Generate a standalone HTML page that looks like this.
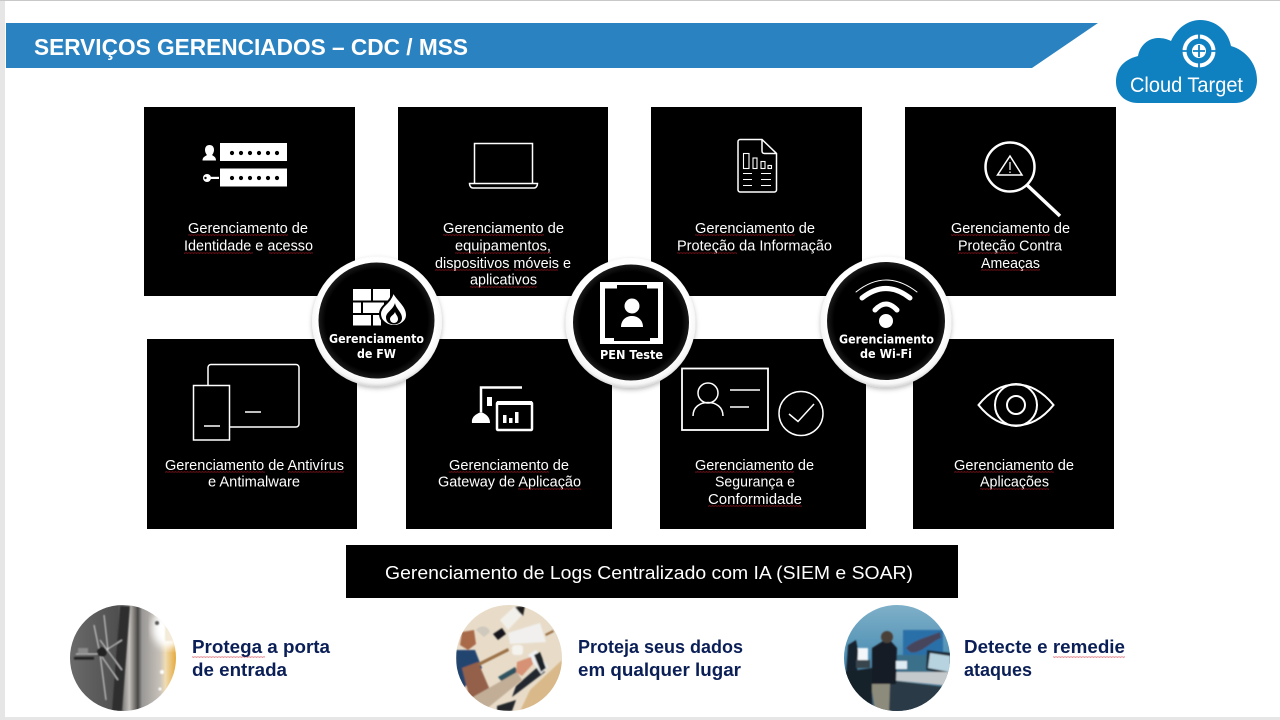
<!DOCTYPE html>
<html lang="pt">
<head>
<meta charset="utf-8">
<title>Serviços Gerenciados</title>
<style>
html,body{margin:0;padding:0;width:1280px;height:720px;overflow:hidden;background:#fff}
svg{display:block}
text{font-family:"Liberation Sans",sans-serif}
.t{fill:#fff;font-size:15px}
.c{fill:#fff;font-family:"DejaVu Sans",sans-serif;font-weight:700;font-size:12px}
.b{fill:#0b1f57;font-weight:700;font-size:18px}
.i{fill:none;stroke:#fff;stroke-width:1.500}
.n{fill:none;stroke:#fff;stroke-width:2}
</style>
</head>
<body>
<svg width="1280" height="720" viewBox="0 0 1280 720" xmlns="http://www.w3.org/2000/svg">
<defs>
<pattern id="w" width="3" height="2" patternUnits="userSpaceOnUse"><polyline points="0,1.500 .75,.5 1.500,1.500 2.250,.5 3,1.500" fill="none" stroke="#c9202a" stroke-width=".5"/></pattern>
<radialGradient id="ring" cx=".5" cy=".47" r=".53"><stop offset=".86" stop-color="#fff"/><stop offset=".95" stop-color="#f6f6f6"/><stop offset="1" stop-color="#d6d6d6"/></radialGradient>
<radialGradient id="disc" cx=".5" cy=".5" r=".5"><stop offset=".88" stop-color="#000"/><stop offset="1" stop-color="#1a1a1a"/></radialGradient>
<filter id="sh" x="-20%" y="-20%" width="140%" height="140%"><feDropShadow dx="0" dy="2" stdDeviation="2.500" flood-color="#000" flood-opacity=".25"/></filter>
<filter id="bl"><feGaussianBlur stdDeviation=".7"/></filter>
<filter id="bl2"><feGaussianBlur stdDeviation="4"/></filter>
<linearGradient id="vault" x1="0" x2="1" y1="0" y2="0"><stop offset="0" stop-color="#6a6a6a"/><stop offset=".45" stop-color="#4f4f4f"/><stop offset=".56" stop-color="#c4c0bc"/><stop offset=".64" stop-color="#4a4846"/><stop offset=".68" stop-color="#9a9896"/><stop offset=".85" stop-color="#c8c2ba"/><stop offset=".9" stop-color="#f0dcb4"/><stop offset="1" stop-color="#e5aa3c"/></linearGradient>
<linearGradient id="room" x1="0" x2="0" y1="0" y2="1"><stop offset="0" stop-color="#7fb0c8"/><stop offset=".5" stop-color="#4d8fb4"/><stop offset="1" stop-color="#2a4a60"/></linearGradient>
<clipPath id="p1"><circle cx="123" cy="658" r="53"/></clipPath>
<clipPath id="p2"><circle cx="509" cy="658" r="53"/></clipPath>
<clipPath id="p3"><circle cx="897" cy="658" r="53"/></clipPath>
</defs>

<!-- page frame -->
<rect width="1280" height="720" fill="#fff"/>
<rect x="0" y="0" width="5" height="720" fill="#e6e6e6"/>
<rect x="0" y="0" width="1280" height="1" fill="#c8c8c8"/>
<rect x="0" y="717" width="1280" height="3" fill="#e6e6e6"/>

<!-- header -->
<polygon points="6,23 1098,23 1032,68 6,68" fill="#2a83c0"/>
<text x="34" y="55" fill="#fff" font-size="23" font-weight="700" textLength="434" lengthAdjust="spacingAndGlyphs">SERVIÇOS GERENCIADOS – CDC / MSS</text>

<!-- logo -->
<path d="M1138 103C1125 103 1116 94 1116 82C1116 70 1122 60 1138 56C1140 44 1150 38 1158 38C1163 38 1167 39 1171 41C1177 28 1188 20 1200 20C1216 20 1228 31 1231 46C1245 50 1257 63 1257 80C1257 94 1247 103 1235 103Z" fill="#0f80c0"/>
<circle cx="1199" cy="51" r="14.500" fill="none" stroke="#fff" stroke-width="4"/>
<circle cx="1199" cy="51" r="7" fill="#fff"/>
<path d="M1199 33V40M1199 62V69M1181 51H1188M1210 51H1217M1199 45V57M1193 51H1205" stroke="#0f80c0" stroke-width="1.800"/>
<text x="1130" y="92" fill="#fff" font-size="21" textLength="113" lengthAdjust="spacingAndGlyphs">Cloud Target</text>

<!-- boxes -->
<g fill="#000">
<rect x="144" y="107" width="211" height="189"/>
<rect x="398" y="107" width="210" height="189"/>
<rect x="651" y="107" width="211" height="189"/>
<rect x="905" y="107" width="211" height="189"/>
<rect x="147" y="339" width="210" height="190"/>
<rect x="406" y="339" width="206" height="190"/>
<rect x="660" y="339" width="206" height="190"/>
<rect x="913" y="339" width="201" height="190"/>
<rect x="346" y="545" width="612" height="53"/>
</g>

<!-- icon: identity -->
<g fill="#fff">
<rect x="220" y="143" width="67" height="18"/>
<rect x="220" y="168.500" width="67" height="18"/>
<path d="M209.500 145C212.500 145 214 147 214 150C214 152 213 154 212 155C214 156.500 216 157 216 160.500H202.500C202.500 157 205 156.500 207 155C206 154 205 152 205 150C205 147 206.500 145 209.500 145Z"/>
<circle cx="207" cy="178" r="4"/>
<rect x="209" y="176.800" width="10" height="2.200"/>
</g>
<circle cx="205.500" cy="178" r="1.200" fill="#000"/>
<g fill="#000">
<circle cx="232" cy="153" r="2.100"/><circle cx="241" cy="153" r="2.100"/><circle cx="250" cy="153" r="2.100"/><circle cx="259" cy="153" r="2.100"/><circle cx="268" cy="153" r="2.100"/><circle cx="277" cy="153" r="2.100"/>
<circle cx="232" cy="178" r="2.100"/><circle cx="241" cy="178" r="2.100"/><circle cx="250" cy="178" r="2.100"/><circle cx="259" cy="178" r="2.100"/><circle cx="268" cy="178" r="2.100"/><circle cx="277" cy="178" r="2.100"/>
</g>

<!-- icon: laptop -->
<path class="i" d="M474.500 183V143.500H532.500V183"/>
<path class="i" d="M469.500 183.500H537.500C537.500 186 536 188 534 188H473C471 188 469.500 186 469.500 183.500Z"/>

<!-- icon: document -->
<path class="i" d="M740 139.500H762L776.500 153.500V190C776.500 191 775.500 192 774.500 192H740C739 192 738 191 738 190V141.500C738 140.500 739 139.500 740 139.500ZM762 139.500V151C762 152.500 763 153.500 764.500 153.500H776.500" stroke-width="1.100"/>
<g fill="none" stroke="#fff" stroke-width="1.100">
<rect x="743.500" y="153.500" width="5.500" height="15"/>
<rect x="753" y="158" width="4" height="10.500"/>
<rect x="761" y="161.500" width="4" height="7"/>
<rect x="768" y="165.500" width="3.500" height="3"/>
<path d="M743 173.500H752M743 179.500H752M743 185.500H752M761 173.500H771M761 179.500H771M761 185.500H771"/>
</g>

<!-- icon: magnifier -->
<circle cx="1010" cy="167" r="24.500" fill="none" stroke="#fff" stroke-width="2.500"/>
<path d="M1027 185L1060 216" stroke="#fff" stroke-width="3.500"/>
<path class="i" d="M1010 156L1022 175H997.500Z" stroke-width="1.200"/>
<path d="M1010 162V170M1010 171.500V173" stroke="#fff" stroke-width="1.200"/>

<!-- icon: devices -->
<rect x="208" y="364.500" width="91" height="62.500" rx="3" class="i"/>
<rect x="193.500" y="385.500" width="36" height="54.500" fill="#000" stroke="#fff" stroke-width="1.500"/>
<path class="i" d="M245 412H261M204 426H220"/>

<!-- icon: gateway -->
<path d="M481 412V387.500H522" fill="none" stroke="#fff" stroke-width="2.500"/>
<path d="M472 423C471 417 476 414 481 412C486 414 490 417 490 423Z" fill="#fff"/>
<rect x="487" y="397" width="5" height="9" fill="#fff"/>
<rect x="497" y="402.500" width="35" height="27.500" rx="1" fill="#000" stroke="#fff" stroke-width="2.500"/>
<rect x="497" y="401" width="35" height="4" fill="#fff"/>
<rect x="503" y="415" width="3.500" height="8" fill="#fff"/><rect x="509" y="418" width="3.500" height="5" fill="#fff"/><rect x="515" y="412" width="3.500" height="11" fill="#fff"/>

<!-- icon: compliance -->
<rect x="682" y="368.500" width="86" height="61.500" fill="none" stroke="#fff" stroke-width="1.800"/>
<circle cx="708" cy="393" r="10" class="i"/>
<path class="i" d="M693 416C693 407 700 402.500 708 402.500C716 402.500 723 407 723 416"/>
<path class="i" d="M730 390H760M730 407H749"/>
<circle cx="801" cy="413.500" r="22" class="i"/>
<path class="i" d="M789 414L798 421.500L814 404"/>

<!-- icon: eye -->
<path class="n" d="M978.500 405C989 392 1001 384.500 1016 384.500C1031 384.500 1043 392 1053.500 405C1043 418 1031 425.500 1016 425.500C1001 425.500 989 418 978.500 405Z"/>
<circle cx="1016" cy="405" r="21" class="n" stroke-width="1.500"/>
<circle cx="1016" cy="405" r="9" class="n"/>

<!-- box labels -->
<text class="t" x="188" y="233" textLength="120" lengthAdjust="spacingAndGlyphs">Gerenciamento de</text>
<text class="t" x="184" y="250.500" textLength="129" lengthAdjust="spacingAndGlyphs">Identidade e acesso</text>
<text class="t" x="443" y="233" textLength="121" lengthAdjust="spacingAndGlyphs">Gerenciamento de</text>
<text class="t" x="455" y="250.500" textLength="96" lengthAdjust="spacingAndGlyphs">equipamentos,</text>
<text class="t" x="435" y="268" textLength="136" lengthAdjust="spacingAndGlyphs">dispositivos móveis e</text>
<text class="t" x="470" y="284.500" textLength="67" lengthAdjust="spacingAndGlyphs">aplicativos</text>
<text class="t" x="695" y="233" textLength="120" lengthAdjust="spacingAndGlyphs">Gerenciamento de</text>
<text class="t" x="677" y="250.500" textLength="155" lengthAdjust="spacingAndGlyphs">Proteção da Informação</text>
<text class="t" x="951" y="233" textLength="119" lengthAdjust="spacingAndGlyphs">Gerenciamento de</text>
<text class="t" x="958" y="250.500" textLength="104" lengthAdjust="spacingAndGlyphs">Proteção Contra</text>
<text class="t" x="981" y="268" textLength="59" lengthAdjust="spacingAndGlyphs">Ameaças</text>
<text class="t" x="165" y="470" textLength="179" lengthAdjust="spacingAndGlyphs">Gerenciamento de Antivírus</text>
<text class="t" x="208" y="486.500" textLength="92" lengthAdjust="spacingAndGlyphs">e Antimalware</text>
<text class="t" x="449" y="470" textLength="120" lengthAdjust="spacingAndGlyphs">Gerenciamento de</text>
<text class="t" x="438" y="486.500" textLength="143" lengthAdjust="spacingAndGlyphs">Gateway de Aplicação</text>
<text class="t" x="695" y="470" textLength="119" lengthAdjust="spacingAndGlyphs">Gerenciamento de</text>
<text class="t" x="715" y="486.500" textLength="80" lengthAdjust="spacingAndGlyphs">Segurança e</text>
<text class="t" x="708" y="504" textLength="94" lengthAdjust="spacingAndGlyphs">Conformidade</text>
<text class="t" x="954" y="470" textLength="120" lengthAdjust="spacingAndGlyphs">Gerenciamento de</text>
<text class="t" x="980" y="486.500" textLength="69" lengthAdjust="spacingAndGlyphs">Aplicações</text>

<!-- spell-check squiggles -->
<g fill="url(#w)">
<rect x="188" y="234" width="100" height="2"/><rect x="184" y="252" width="69" height="2"/><rect x="269" y="252" width="44" height="2"/>
<rect x="443" y="234" width="101" height="2"/><rect x="455" y="252" width="96" height="2"/><rect x="435" y="269" width="76" height="2"/><rect x="514" y="269" width="44" height="2"/><rect x="470" y="286" width="67" height="2"/>
<rect x="695" y="234" width="100" height="2"/><rect x="677" y="252" width="60" height="2"/>
<rect x="951" y="234" width="99" height="2"/><rect x="958" y="252" width="60" height="2"/><rect x="981" y="269" width="59" height="2"/>
<rect x="165" y="471" width="100" height="2"/><rect x="288" y="471" width="56" height="2"/>
<rect x="449" y="471" width="100" height="2"/><rect x="518" y="488" width="63" height="2"/>
<rect x="695" y="471" width="99" height="2"/><rect x="708" y="505" width="94" height="2"/>
<rect x="954" y="471" width="100" height="2"/><rect x="980" y="488" width="69" height="2"/>
<rect x="192" y="656" width="73" height="2"/><rect x="1053" y="656" width="72" height="2"/>
</g>

<!-- log bar label -->
<text x="385" y="579" fill="#fff" font-size="18.500" textLength="528" lengthAdjust="spacingAndGlyphs">Gerenciamento de Logs Centralizado com IA (SIEM e SOAR)</text>

<!-- badge circles -->
<g filter="url(#sh)">
<circle cx="377" cy="321.500" r="65" fill="url(#ring)"/>
<circle cx="630.500" cy="323" r="65" fill="url(#ring)"/>
<circle cx="886" cy="322" r="65.500" fill="url(#ring)"/>
</g>
<circle cx="376.500" cy="320.500" r="58" fill="url(#disc)"/>
<circle cx="631" cy="322.500" r="58" fill="url(#disc)"/>
<circle cx="886" cy="321" r="59" fill="url(#disc)"/>

<!-- FW icon -->
<g fill="#fff">
<rect x="353" y="289" width="18" height="11.500"/><rect x="373" y="289" width="17" height="11.500"/>
<rect x="353" y="302.500" width="8" height="10.500"/><rect x="363" y="302.500" width="21" height="10.500"/>
<rect x="353" y="315" width="18" height="10.500"/><rect x="373" y="315" width="8" height="10.500"/>
<path d="M393 291C396 299 407 305 407 315C407 321 401 326 394 326C387 326 380 321 380 314C380 307 387 304 390 299C392 296 393 294 393 291Z" stroke="#000" stroke-width="2"/>
</g>
<path d="M395 303C396 309 402 312 402 318C402 322 398 324.500 394 324.500C390 324.500 386 322 386 317.500C386 312 393 310 395 303Z" fill="#000"/>
<path d="M395 312C396 315 398 316 398 319C398 321.500 396 323 394 323C392 323 390 321.500 390 319C390 316 394 315 395 312Z" fill="#fff"/>
<text class="c" x="329" y="343" textLength="95" lengthAdjust="spacingAndGlyphs">Gerenciamento</text>
<text class="c" x="357" y="358" textLength="39" lengthAdjust="spacingAndGlyphs">de FW</text>

<!-- PEN icon -->
<rect x="600" y="282" width="63" height="62" fill="#fff"/>
<path fill="#000" d="M617 285H647V288.500H658V338H650V341H614V338H605V288.500H617Z"/>
<circle cx="632" cy="306" r="7.500" fill="#fff"/>
<path d="M621 327C621 320 626 316 632 316C638 316 643 320 643 327Z" fill="#fff"/>
<text class="c" x="600" y="359" textLength="63" lengthAdjust="spacingAndGlyphs">PEN Teste</text>

<!-- Wi-Fi icon -->
<g fill="none" stroke="#fff" stroke-linecap="round">
<path d="M856 292Q886 268 917 292" stroke-width="1"/>
<path d="M862 298Q886 279 910 298" stroke-width="5"/>
<path d="M875 310Q886 298 897 310" stroke-width="5"/>
</g>
<circle cx="886" cy="321" r="7" fill="#fff"/>
<text class="c" x="839" y="343.500" textLength="95" lengthAdjust="spacingAndGlyphs">Gerenciamento</text>
<text class="c" x="860" y="358" textLength="52" lengthAdjust="spacingAndGlyphs">de Wi-Fi</text>

<!-- photo 1: vault -->
<g clip-path="url(#p1)">
<rect x="70" y="605" width="106" height="106" fill="url(#vault)"/>
<ellipse cx="168" cy="628" rx="16" ry="20" fill="#fff" filter="url(#bl2)"/>
<rect x="165" y="625" width="12" height="16" fill="#f3ead8" filter="url(#bl)"/>
<g filter="url(#bl)">
<path d="M120 606L112 711H122L130 606Z" fill="#2f2f2f"/>
<path d="M76 654H100M100 654L122 640M100 654L118 680M100 654L94 625M100 654L106 700M100 640L122 670M104 615L108 650" stroke="#dcdcdc" stroke-width="1" fill="none"/>
<circle cx="102" cy="652" r="5" fill="#222"/>
<rect x="78" y="648" width="10" height="6" fill="#8a8a8a"/>
<rect x="74" y="657" width="20" height="2.500" fill="#1f1f1f"/>
<circle cx="162" cy="672" r="2" fill="#fff"/><circle cx="160" cy="689" r="1.500" fill="#fff"/>
<circle cx="157" cy="623" r="2" fill="#555"/>
</g>
</g>

<!-- photo 2: desk -->
<g clip-path="url(#p2)">
<rect x="456" y="605" width="106" height="106" fill="#e8dcc9"/>
<g filter="url(#bl)">
<path d="M530 690L562 660V711H520Z" fill="#d9b98a"/>
<path d="M456 650H475L482 668L462 690H456Z" fill="#23456f"/>
<path d="M462 668L478 662L490 690L470 700Z" fill="#94604a"/>
<path d="M478 663L508 648L509 651L479 666Z" fill="#9b6f45"/>
<path d="M545 634L553 630L554 632L546 636Z" fill="#9b6f45"/>
<path d="M462 632L474 630L476 644L468 650L460 645Z" fill="#a86b4a"/>
<path d="M476 630C480 625 488 625 490 632L484 637Z" fill="#cfc8bc"/>
<path d="M508 633L540 623L546 642L510 644Z" fill="#f1f0ee"/>
<path d="M500 620L515 606L523 614L508 630Z" fill="#f2f0ea"/>
<path d="M493 634L502 628L506 634L498 640Z" fill="#17181a"/>
<path d="M515 607L525 606L523 616L519 612Z" fill="#1d1d1d"/>
<rect x="512" y="645" width="11" height="10" rx="3" fill="#f5f3ee"/>
<path d="M498 677L515 667L518 672L503 683Z" fill="#2f5361"/>
<path d="M512 697L545 672L540 665L516 686Z" fill="#20282e"/>
<path d="M528 655L536 650L548 667L541 674Z" fill="#eef0f2"/>
<path d="M534 655L540 652L546 668L541 672Z" fill="#1c2025"/>
<path d="M473 697L517 672L522 680L484 711H468Z" fill="#c2ae97"/>
<path d="M517 662L531 657L533 664L522 676L516 672Z" fill="#d79274"/>
<path d="M497 706L516 700L512 711H497Z" fill="#24282c"/>
</g>
</g>

<!-- photo 3: SOC room -->
<g clip-path="url(#p3)">
<rect x="844" y="605" width="106" height="106" fill="url(#room)"/>
<g filter="url(#bl)">
<rect x="903" y="630" width="40" height="27" fill="#2a6fa8"/>
<path d="M906 648C914 640 925 638 940 632L941 638C930 642 920 655 910 652Z" fill="#47455c"/>
<rect x="896" y="655" width="50" height="18" fill="#3a6f8a"/>
<path d="M927 650L951 653V675L926 670Z" fill="#1f2a35"/>
<path d="M930 653L950 656V672L928 668Z" fill="#b7d3e0"/>
<path d="M853 648H868V660H853Z" fill="#f4f7fa"/>
<path d="M848 645L856 640L858 650L857 675H846Z" fill="#15232f"/>
<path d="M890 672H950V686L890 680Z" fill="#c4c9cc"/>
<path d="M890 680L950 688V712H888Z" fill="#2a3a46"/>
<path d="M872 648L888 638L897 648L896 684L872 686Z" fill="#141d28"/>
<circle cx="887" cy="637" r="6" fill="#4a4038"/>
<path d="M871 684H890L889 712H875Z" fill="#8d8b7c"/>
<rect x="896" y="661" width="11" height="8" fill="#e0ecf4"/>
<path d="M844 672L872 668V712H844Z" fill="#14202a"/>
<rect x="856" y="660" width="14" height="8" fill="#39444d"/>
</g>
</g>

<!-- bottom captions -->
<text class="b" x="192" y="653" textLength="138" lengthAdjust="spacingAndGlyphs">Protega a porta</text>
<text class="b" x="192" y="676" textLength="95" lengthAdjust="spacingAndGlyphs">de entrada</text>
<text class="b" x="578" y="653" textLength="165" lengthAdjust="spacingAndGlyphs">Proteja seus dados</text>
<text class="b" x="578" y="676" textLength="163" lengthAdjust="spacingAndGlyphs">em qualquer lugar</text>
<text class="b" x="964" y="653" textLength="161" lengthAdjust="spacingAndGlyphs">Detecte e remedie</text>
<text class="b" x="964" y="676" textLength="68" lengthAdjust="spacingAndGlyphs">ataques</text>
</svg>
</body>
</html>
